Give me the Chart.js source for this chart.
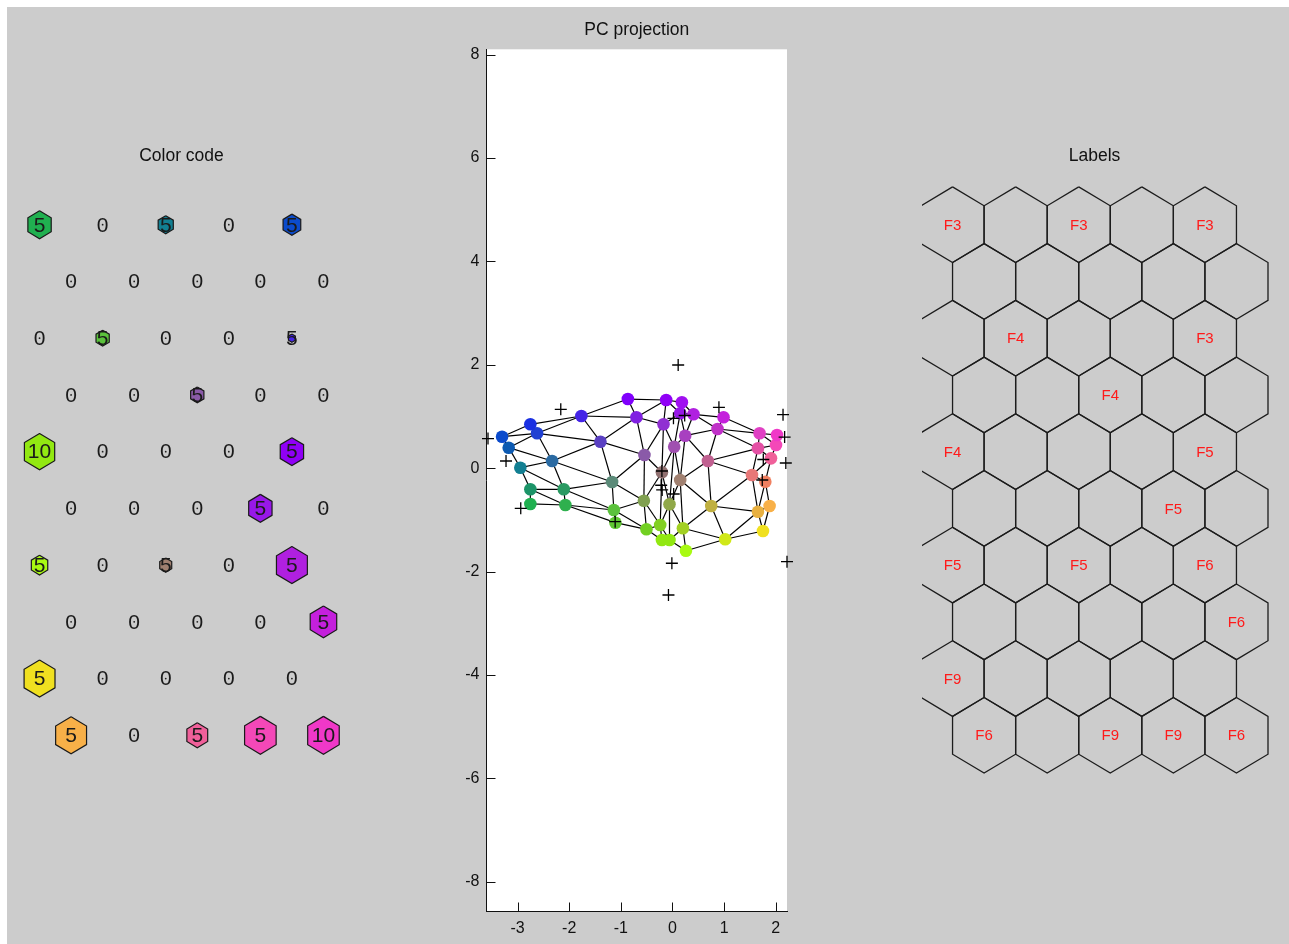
<!DOCTYPE html>
<html>
<head>
<meta charset="utf-8">
<title>SOM visualisation</title>
<script src="https://cdn.jsdelivr.net/npm/chart.js@4.4.1/dist/chart.umd.min.js"></script>
<style>
  html, body { margin: 0; padding: 0; background: #fff; }
  body { width: 1289px; height: 944px; position: relative; overflow: hidden; }
  #fig { position: absolute; left: 7px; top: 7px; right: 0; bottom: 0; background: #cccccc; }
  canvas { position: absolute; }
</style>
</head>
<body>
<div id="fig"></div>
<canvas id="chart-colorcode" width="355" height="650" style="left:4px;top:130px"></canvas>
<canvas id="chart-pc" width="380" height="944" style="left:420px;top:0"></canvas>
<canvas id="chart-labels" width="355" height="650" style="left:917px;top:130px"></canvas>
<script>
/* ─── SOM 10x5 hex map: colour code, PC projection, labels ───────── */
const ROWS = 10, COLS = 5;
const FONT = '"Liberation Sans", Arial, sans-serif';

// map units, row-major (row 0 first), projected on PC1 / PC2
const unitPC1 = [
  -2.752, -2.752, -2.946, -3.171, -3.300,
  -2.074, -2.105, -2.331, -2.622, -2.752,
  -1.105, -1.136, -1.169, -1.395, -1.764,
  -0.504, -0.554, -0.543, -0.698, -0.864,
  -0.205, -0.238, -0.205, -0.174, -0.122,
  -0.058, -0.058,  0.033,  0.149,  0.182,
   0.260,  0.202,  0.149,  0.246,  0.407,
   1.021,  0.750,  0.686,  0.872,  0.988,
   1.752,  1.655,  1.539,  1.655,  1.686,
   1.880,  1.797,  1.907,  2.004,  2.023,
];
const unitPC2 = [
  -0.692, -0.408,  0.010,  0.397,  0.609,
  -0.712, -0.408,  0.139,  0.675,  0.849,
  -1.054, -0.809, -0.267,  0.513,  1.010,
  -1.182, -0.629,  0.255,  0.985,  1.338,
  -1.389, -1.099, -0.079,  0.849,  1.319,
  -1.389, -0.698,  0.416,  1.062,  1.275,
  -1.596, -1.162, -0.228,  0.629,  1.043,
  -1.375, -0.731,  0.139,  0.758,  0.985,
  -1.215, -0.841, -0.132,  0.385,  0.675,
  -0.731, -0.261,  0.191,  0.449,  0.642,
];
const unitColor = [
  '#20b050', '#1c9468', '#127f92', '#0c5ab2', '#0b4bcc',
  '#2fb04e', '#2a9a62', '#2a6aa2', '#2040d2', '#1a30e2',
  '#60c832', '#5bc23c', '#5a8a78', '#5a40c2', '#4424e6',
  '#72d022', '#80a050', '#8a5aa8', '#8020e2', '#8000fc',
  '#92e812', '#82d022', '#907070', '#9030d2', '#9000f6',
  '#92e812', '#90a848', '#a050b0', '#9818e8', '#a010f0',
  '#a8fa12', '#a2d022', '#a08070', '#a840c0', '#b020e0',
  '#d0e818', '#c0b040', '#c06090', '#c030c8', '#c420dc',
  '#f0e020', '#e8b040', '#e87878', '#e450a4', '#e040c4',
  '#f8b048', '#f08060', '#f0609a', '#f448b8', '#f038c8',
];
// numbers written on the colour-code plane
const unitHits = [
  5, 0, 5, 0, 5,
  0, 0, 0, 0, 0,
  0, 5, 0, 0, 5,
  0, 0, 5, 0, 0,
  10, 0, 0, 0, 5,
  0, 0, 0, 5, 0,
  5, 0, 5, 0, 5,
  0, 0, 0, 0, 5,
  5, 0, 0, 0, 0,
  5, 0, 5, 5, 10,
];
// relative size of the marker hexagon (1 = full cell)
const hitSize = [
  0.37, 0, 0.24, 0, 0.28,
  0, 0, 0, 0, 0,
  0, 0.21, 0, 0, 0.11,
  0, 0, 0.21, 0, 0,
  0.48, 0, 0, 0, 0.37,
  0, 0, 0, 0.37, 0,
  0.26, 0, 0.19, 0, 0.49,
  0, 0, 0, 0, 0.42,
  0.49, 0, 0, 0, 0,
  0.49, 0, 0.33, 0.50, 0.50,
];
const unitLabel = [
  'F3', '', 'F3', '', 'F3',
  '', '', '', '', '',
  '', 'F4', '', '', 'F3',
  '', '', 'F4', '', '',
  'F4', '', '', '', 'F5',
  '', '', '', 'F5', '',
  'F5', '', 'F5', '', 'F6',
  '', '', '', '', 'F6',
  'F9', '', '', '', '',
  'F6', '', 'F9', 'F9', 'F6',
];
// data samples projected on PC1 / PC2
const dataPC1 = [-2.163, 0.899, 2.140, 2.171, -3.572, -3.223, -2.938, -1.110, -0.205, -0.219,
                 -0.200, 0.023, 0.236, 0.019, -0.012, -0.078, 1.758, 1.738, 2.194, 2.217, 0.110];
const dataPC2 = [1.139, 1.178, 1.035, 0.603, 0.574, 0.139, -0.776, -1.035, -0.054, -0.330,
                 -0.420, -0.499, 1.019, 0.965, -1.839, -2.453, 0.168, -0.228, 0.101, -1.809, 1.996];

const pcXTicks = [-3, -2, -1, 0, 1, 2];
const pcYTicks = [-8, -6, -4, -2, 0, 2, 4, 6, 8];

/* ── helpers ── */
const cellX = i => (i % COLS) + (Math.floor(i / COLS) % 2) * 0.5;
const cellY = i => Math.floor(i / COLS);

function hexPath(i, k) {
  const cx = cellX(i), cy = cellY(i);
  return [[0, -2/3], [0.5, -1/3], [0.5, 1/3], [0, 2/3], [-0.5, 1/3], [-0.5, -1/3], [0, -2/3]]
    .map(([dx, dy]) => ({ x: cx + dx * k, y: cy + dy * k }));
}

function hexEdges() {
  const edges = [];
  for (let r = 0; r < ROWS; r++) {
    for (let c = 0; c < COLS; c++) {
      const i = r * COLS + c;
      if (c + 1 < COLS) edges.push([i, i + 1]);
      if (r + 1 < ROWS) {
        (r % 2 ? [c, c + 1] : [c - 1, c]).forEach(cc => {
          if (cc >= 0 && cc < COLS) edges.push([i, (r + 1) * COLS + cc]);
        });
      }
    }
  }
  return edges;
}

function cellText(texts, font, color) {
  return {
    id: 'cellText',
    afterDatasetsDraw(chart) {
      const { ctx, scales: { x, y } } = chart;
      ctx.save();
      ctx.font = font;
      ctx.fillStyle = color;
      ctx.textAlign = 'center';
      ctx.textBaseline = 'middle';
      texts.forEach((t, i) => {
        if (t === '' || t === null) return;
        ctx.fillText(String(t), x.getPixelForValue(cellX(i)), y.getPixelForValue(cellY(i)) + 1);
      });
      ctx.restore();
    },
  };
}

const hexScales = {
  x: { type: 'linear', min: -0.5, max: 5.0, display: false },
  y: { type: 'linear', min: -2/3, max: ROWS - 1 + 2/3, reverse: true, display: false },
};

function panelTitle(text) {
  return {
    display: true, text, color: '#111', fullSize: false,
    font: { family: FONT, size: 17.5, weight: 'normal' },
    padding: { top: 15.5, bottom: 20.4 },
  };
}

const BASE = {
  responsive: false,
  animation: false,
  events: [],
  layout: { padding: { left: 4, right: 4, top: 0, bottom: 6.9 } },
};

/* ── Colour code plane ── */
const ccDatasets = [];
unitHits.forEach((h, i) => {
  if (hitSize[i] > 0) {
    ccDatasets.push({
      type: 'line',
      data: hexPath(i, hitSize[i]),
      fill: 'shape',
      backgroundColor: unitColor[i],
      borderColor: '#1a1a1a',
      borderWidth: 1.2,
      pointRadius: 0,
      tension: 0,
    });
  }
});
ccDatasets.push({
  type: 'scatter',
  data: unitHits.map((h, i) => ({ x: cellX(i), y: cellY(i) })).filter((p, i) => hitSize[i] === 0),
  pointRadius: 0.9,
  pointBackgroundColor: '#222',
  pointBorderWidth: 0,
});

new Chart(document.getElementById('chart-colorcode'), {
  type: 'line',
  data: { datasets: ccDatasets },
  options: {
    ...BASE,
    scales: hexScales,
    plugins: { legend: { display: false }, tooltip: { enabled: false }, title: panelTitle('Color code') },
  },
  plugins: [cellText(unitHits, `21px ${FONT}`, '#1a1a1a')],
});

/* ── Labels plane ── */
new Chart(document.getElementById('chart-labels'), {
  type: 'line',
  data: {
    datasets: unitLabel.map((l, i) => ({
      data: hexPath(i, 1),
      fill: false,
      borderColor: '#1c1c1c',
      borderWidth: 1.3,
      pointRadius: 0,
      tension: 0,
      clip: { left: -1, top: 3, right: 3, bottom: 3 },
    })),
  },
  options: {
    ...BASE,
    scales: hexScales,
    plugins: { legend: { display: false }, tooltip: { enabled: false }, title: panelTitle('Labels') },
  },
  plugins: [cellText(unitLabel, `15px ${FONT}`, '#ff1a1a')],
});

/* ── PC projection ── */
const pcFrame = {
  id: 'pcFrame',
  beforeDraw(chart) {
    const { ctx, chartArea: a } = chart;
    ctx.save();
    ctx.fillStyle = '#fff';
    ctx.fillRect(a.left, a.top, a.right - a.left, a.bottom - a.top);
    ctx.restore();
  },
  afterDraw(chart) {
    const { ctx, chartArea: a, scales: { x, y } } = chart;
    ctx.save();
    ctx.strokeStyle = '#111';
    ctx.lineWidth = 1;
    ctx.beginPath();
    x.ticks.forEach(t => {
      const px = Math.round(x.getPixelForValue(t.value)) + 0.5;
      ctx.moveTo(px, a.bottom); ctx.lineTo(px, a.bottom - 9);
    });
    y.ticks.forEach(t => {
      const py = Math.round(y.getPixelForValue(t.value)) + 0.5;
      ctx.moveTo(a.left, py); ctx.lineTo(a.left + 9, py);
    });
    ctx.stroke();
    ctx.restore();
  },
};

const edgeSets = hexEdges().map(([i, j]) => ({
  type: 'line',
  data: [{ x: unitPC1[i], y: unitPC2[i] }, { x: unitPC1[j], y: unitPC2[j] }],
  borderColor: '#000',
  borderWidth: 1.2,
  pointRadius: 0,
  fill: false,
  order: 2,
}));

const axisTicks = { color: '#111', font: { family: FONT, size: 16 }, callback: v => String(v) };

new Chart(document.getElementById('chart-pc'), {
  type: 'scatter',
  data: {
    datasets: [
      {
        data: dataPC1.map((v, i) => ({ x: v, y: dataPC2[i] })),
        pointStyle: 'cross',
        pointRadius: 6,
        borderColor: '#000',
        borderWidth: 1.3,
        clip: false,
        order: 0,
      },
      {
        data: unitPC1.map((v, i) => ({ x: v, y: unitPC2[i] })),
        pointRadius: 6.3,
        backgroundColor: unitColor,
        borderColor: unitColor,
        borderWidth: 0,
        order: 1,
      },
      ...edgeSets,
    ],
  },
  options: {
    responsive: false,
    animation: false,
    events: [],
    layout: { padding: { left: 0, right: 13, top: 0, bottom: 0 } },
    plugins: {
      legend: { display: false },
      tooltip: { enabled: false },
      title: {
        display: true, text: 'PC projection', color: '#111', fullSize: false,
        font: { family: FONT, size: 17.5, weight: 'normal' },
        padding: { top: 20, bottom: 8.3 },
      },
    },
    scales: {
      x: {
        type: 'linear', min: -3.601, max: 2.217,
        afterFit: s => { s.height = 32.5; },
        afterBuildTicks: s => { s.ticks = pcXTicks.map(v => ({ value: v })); },
        grid: { display: false, drawTicks: false },
        border: { display: true, color: '#111', width: 1 },
        ticks: { ...axisTicks, padding: 7 },
      },
      y: {
        type: 'linear', min: -8.575, max: 8.103,
        afterFit: s => { s.width = 66.5; },
        afterBuildTicks: s => { s.ticks = pcYTicks.map(v => ({ value: v })); },
        grid: { display: false, drawTicks: false },
        border: { display: true, color: '#111', width: 1 },
        ticks: { ...axisTicks, padding: 7 },
      },
    },
  },
  plugins: [pcFrame],
});
</script>
</body>
</html>
